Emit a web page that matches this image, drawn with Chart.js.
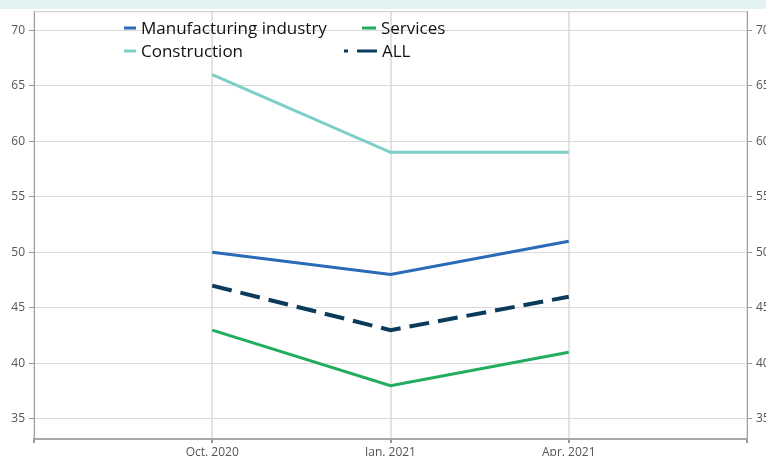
<!DOCTYPE html>
<html>
<head>
<meta charset="utf-8">
<script src="https://cdn.jsdelivr.net/npm/chart.js@4.4.0/dist/chart.umd.min.js"></script>
<style>
  html, body { margin: 0; padding: 0; background: #fff; }
  #wrap { position: relative; width: 766px; height: 456px; overflow: hidden; }
  #band { position: absolute; left: 0; top: 0; width: 766px; height: 9px; background: #e3f3f3; }
  #myChart { position: absolute; left: 0; top: 0; }
</style>
</head>
<body>
<div id="wrap">
  <div id="band"></div>
  <canvas id="myChart" width="780" height="466"></canvas>
</div>
<script>
const labels = ["", "Oct. 2020", "Jan. 2021", "Apr. 2021", ""]
const manufacturing = [null, 50, 48, 51, null]
const services = [null, 43, 38, 41, null]
const construction = [null, 66, 59, 59, null]
const all = [null, 47, 43, 46, null]
const yTicks = [35, 40, 45, 50, 55, 60, 65, 70]

const fontName = "'Open Sans', 'Noto Sans', sans-serif"

// legend is drawn by hand, two rows inside the plot
const legendPlugin = {
  id: "handLegend",
  afterDraw(chart) {
    const ctx = chart.ctx
    const ds = chart.data.datasets
    const items = [
      { i: 0, x: 124, y: 28, w: 12 },
      { i: 1, x: 362, y: 28, w: 14 },
      { i: 2, x: 124, y: 51, w: 12 },
      { i: 3, x: 344, y: 51, w: 33 }
    ]
    ctx.save()
    ctx.font = "17px " + fontName
    ctx.textBaseline = "middle"
    items.forEach(it => {
      const d = ds[it.i]
      ctx.strokeStyle = d.borderColor
      ctx.lineWidth = 3
      ctx.setLineDash(d.borderDash ? [20, 9] : [])
      ctx.beginPath()
      ctx.moveTo(it.x + it.w, it.y)
      ctx.lineTo(it.x, it.y)
      ctx.stroke()
      ctx.setLineDash([])
      ctx.fillStyle = "#111"
      ctx.fillText(d.label, it.x + it.w + 5, it.y + 1)
    })
    ctx.restore()
  },
  beforeDatasetsDraw(chart) {
    // top border of the plot
    const a = chart.chartArea
    const ctx = chart.ctx
    ctx.save()
    ctx.strokeStyle = "#c8c8c8"
    ctx.lineWidth = 1
    ctx.beginPath()
    ctx.moveTo(a.left, a.top + 0.5)
    ctx.lineTo(a.right, a.top + 0.5)
    ctx.stroke()
    ctx.restore()
  }
}

const yAxisCommon = {
  min: 33.2,
  max: 71.7,
  afterBuildTicks: axis => { axis.ticks = yTicks.map(v => ({ value: v })) },
  ticks: { color: "#555", font: { size: 12, family: fontName }, padding: 4 },
  border: { color: "#a0a0a0", width: 1 }
}

new Chart(document.getElementById("myChart"), {
  type: "line",
  data: {
    labels: labels,
    datasets: [
      { label: "Manufacturing industry", data: manufacturing, borderColor: "#2a6ab8", borderWidth: 3 },
      { label: "Services", data: services, borderColor: "#20ad5e", borderWidth: 3 },
      { label: "Construction", data: construction, borderColor: "#7ecec8", borderWidth: 3 },
      { label: "ALL", data: all, borderColor: "#0b3b5b", borderWidth: 4, borderDash: [20, 9] }
    ]
  },
  options: {
    responsive: false,
    animation: false,
    layout: { padding: { top: 10, left: 0, right: 0, bottom: 0 } },
    elements: { point: { radius: 0 }, line: { tension: 0, fill: false } },
    plugins: { legend: { display: false }, tooltip: { enabled: false } },
    scales: {
      x: {
        offset: false,
        grid: { color: "#e3e3e3", lineWidth: 2, tickColor: "#999", tickLength: 4 },
        border: { color: "#a8a8a8", width: 2 },
        ticks: { color: "#555", font: { size: 12, family: fontName }, padding: 2, maxRotation: 0, autoSkip: false },
        afterFit: s => { s.height = 27 }
      },
      y: Object.assign({}, yAxisCommon, {
        position: "left",
        grid: { color: "#dadada", lineWidth: 1, tickColor: "#999", tickLength: 5 },
        afterFit: s => { s.width = 34 }
      }),
      y2: Object.assign({}, yAxisCommon, {
        position: "right",
        grid: { drawOnChartArea: false, tickColor: "#999", tickLength: 5 },
        afterFit: s => { s.width = 33 }
      })
    }
  },
  plugins: [legendPlugin]
})
</script>
</body>
</html>
